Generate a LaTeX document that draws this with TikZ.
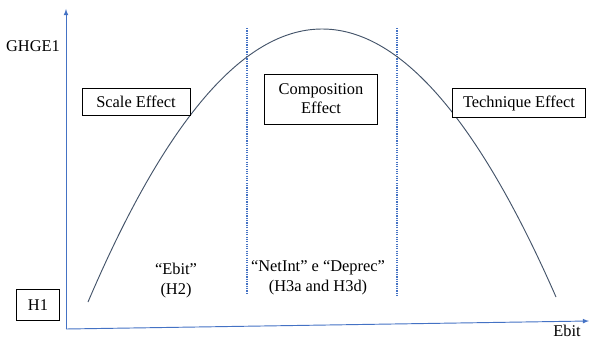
\documentclass[tikz,border=0pt]{standalone}
\usepackage{fontspec}
\setmainfont{Liberation Serif}
\definecolor{axisblue}{HTML}{4472C4}
\definecolor{curvegray}{HTML}{44546A}
\begin{document}
\begin{tikzpicture}
	[x=0.03cm,y=-0.03cm,>=latex,
	box/.style={draw,thin,fill=white,inner sep=0pt,align=center,font=\fontsize{14}{16}\selectfont},
	lbl/.style={inner sep=0pt,align=center,font=\fontsize{14}{17}\selectfont},
	axis/.style={->,axisblue,thick},
	sep/.style={axisblue,densely dotted,line width=1pt}]
	\useasboundingbox (0,0) rectangle (589,339);
	\coordinate (o) at (66,329);
	\coordinate (ytop) at (66,9);
	\coordinate (xend) at (589,321);
	\coordinate (s1top) at (247,28);
	\coordinate (s1bot) at (247,295);
	\coordinate (s2top) at (397,28);
	\coordinate (s2bot) at (397,297);
	\draw[axis](o) -- (ytop);
	\draw[axis](o) -- (xend);
	\draw[sep](s1top) -- (s1bot);
	\draw[sep](s2top) -- (s2bot);
	\draw[curvegray,thick](88,302) .. controls (242.7,-60.3) and (398.7,-62) .. (556,297);
	\node[lbl,name=ylbl]at(33,46){GHGE1};
	\node[lbl,name=xlbl]at(567,331){Ebit};
	\node[box,minimum width=1.29cm,minimum height=0.93cm,name=h1]at(38,305){H1};
	\node[box,minimum width=3.24cm,minimum height=0.81cm,name=scale]at(136,102){Scale Effect};
	\node[box,minimum width=3.39cm,minimum height=1.5cm,name=comp]at(321,99){Composition\\Effect};
	\node[box,minimum width=3.99cm,minimum height=0.87cm,name=tech]at(519,103){Technique Effect};
	\node[lbl,name=h2]at(176,281){``Ebit''\\(H2)};
	\node[lbl,name=h3]at(318,278){``NetInt'' e ``Deprec''\\(H3a and H3d)};
\end{tikzpicture}
\end{document}
